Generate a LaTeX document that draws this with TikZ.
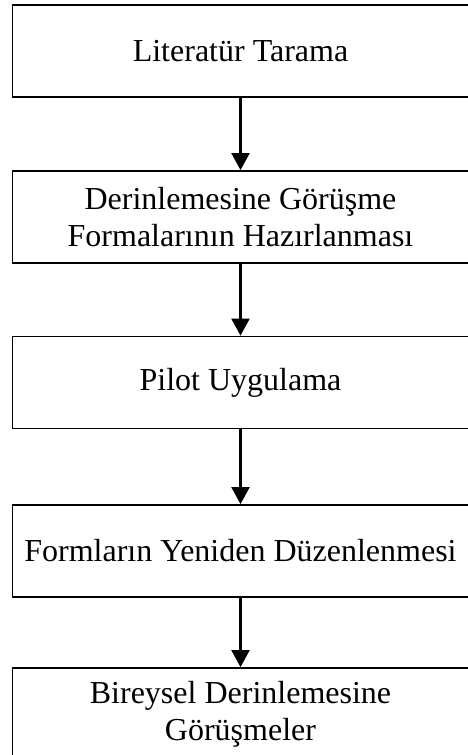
\documentclass[tikz,border=0pt]{standalone}
\usepackage{fontspec}
\setmainfont{Liberation Serif}
\usepackage{tikz}
\usetikzlibrary{arrows.meta, positioning}

\begin{document}
\begin{tikzpicture}
    %defining some styles
    [
        x=1pt, y=-1pt,
        stepbox/.style={rectangle, draw=black, line width=1.8pt, minimum width=456pt, minimum height=92pt, align=center, font=\fontsize{32}{37}\selectfont, inner sep=0pt},
        flow/.style={line width=2.2pt, -{Triangle[width=18pt,length=17pt]}},
    ]
    \clip (0,0) rectangle (468,755);
    \node (tarama) at (240.5,50.6) [stepbox] {Literatür Tarama};
    \node (formlar) at (240.5,217) [stepbox] {Derinlemesine Görüşme\\Formalarının Hazırlanması};
    \node (pilot) at (240.5,382.5) [stepbox] {Pilot Uygulama};
    \node (duzen) at (240.5,551) [stepbox] {Formların Yeniden Düzenlenmesi};
    \node (gorusme) at (240.5,714) [stepbox] {Bireysel Derinlemesine\\Görüşmeler};
    \draw [flow] (tarama) -- (formlar);
    \draw [flow] (formlar) -- (pilot);
    \draw [flow] (pilot) -- (duzen);
    \draw [flow] (duzen) -- (gorusme);
\end{tikzpicture}
\end{document}
